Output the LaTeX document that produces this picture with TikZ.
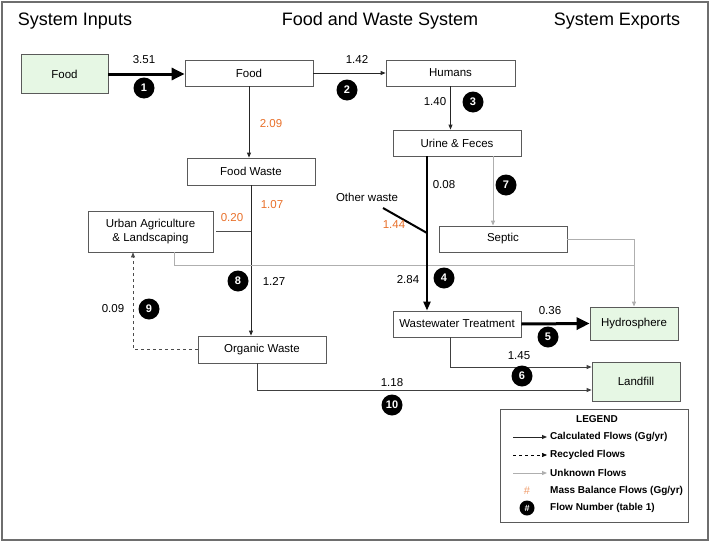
\documentclass[tikz,border=0pt]{standalone}
\usepackage{fontspec}
\setmainfont{Liberation Sans}
\usetikzlibrary{arrows.meta}
\definecolor{boxgreen}{RGB}{230,247,228}
\definecolor{mborange}{RGB}{232,112,42}
\definecolor{boxline}{RGB}{90,90,90}
\definecolor{unk}{RGB}{175,175,175}
\definecolor{frame}{RGB}{110,110,110}
\tikzset{
  flowbox/.style={draw=boxline, line width=0.8pt, fill=white, inner sep=0pt, align=center, font=\fontsize{11.5}{13.5}\selectfont},
  expbox/.style={flowbox, fill=boxgreen},
  numc/.style={circle, fill=black, text=white, inner sep=0pt, minimum size=21pt, font=\bfseries\fontsize{11}{12}\selectfont},
  lbl/.style={font=\fontsize{11.5}{13}\selectfont, inner sep=0pt},
  mb/.style={lbl, text=mborange},
  title/.style={font=\fontsize{18}{20}\selectfont, inner sep=0pt},
  thickflow/.style={line width=3pt, -{Triangle[length=13pt,width=12pt]}},
  calc/.style={line width=0.9pt, draw=black!85, -{Triangle[length=5pt,width=4pt]}},
  calcnoarrow/.style={line width=1pt, draw=black!70},
  recyc/.style={line width=0.6pt, draw=black!70, dashed, -{Triangle[length=5pt,width=4pt]}},
  unknown/.style={line width=1pt, draw=unk, -{Triangle[length=5pt,width=4pt]}},
  legtxt/.style={font=\bfseries\fontsize{10}{11}\selectfont, inner sep=0pt, anchor=west},
}
\begin{document}
\begin{tikzpicture}[x=1pt,y=-1pt]
\useasboundingbox (0,0) rectangle (710,541);
\draw[frame, line width=2pt] (1.5,1.5) rectangle (708,539.5);

% titles
\node[title] (t1) at (75,21) {System Inputs};
\node[title] (t2) at (380,21) {Food and Waste System};
\node[title] (t3) at (617,21) {System Exports};

% boxes
\node[expbox, minimum width=87pt, minimum height=39pt] (infood) at (64.5,74) {Food};
\node[flowbox, minimum width=128pt, minimum height=26pt] (food) at (249,73) {Food};
\node[flowbox, minimum width=129pt, minimum height=26pt] (humans) at (450.5,73) {Humans};
\node[flowbox, minimum width=128pt, minimum height=26pt] (urine) at (457,143) {Urine \& Feces};
\node[flowbox, minimum width=128pt, minimum height=27pt] (fwaste) at (251,171.5) {Food Waste};
\node[flowbox, minimum width=125pt, minimum height=41pt] (urban) at (150.5,231.5) {Urban Agriculture\\\& Landscaping};
\node[flowbox, minimum width=128pt, minimum height=26pt] (septic) at (503,239) {Septic};
\node[flowbox, minimum width=128pt, minimum height=26pt] (wwt) at (457,324) {Wastewater Treatment};
\node[expbox, minimum width=88pt, minimum height=33pt] (hydro) at (634,323.5) {Hydrosphere};
\node[flowbox, minimum width=128pt, minimum height=27pt] (organic) at (262,349.5) {Organic Waste};
\node[expbox, minimum width=88pt, minimum height=39pt] (landfill) at (636,381.5) {Landfill};

% helper coordinates
\coordinate (j8) at (fwaste.south |- urban.east);
\coordinate (g1) at (634,265);
\coordinate (owA) at (383,208);
\coordinate (owB) at (427,233);

% flows
\draw[thickflow] (infood.east) -- (infood.east -| food.west);
\draw[calc] (food.east) -- (humans.west);
\draw[calc] (humans.south) -- (humans.south |- urine.north);
\draw[calc] (food.south) -- (food.south |- fwaste.north);
\draw[calc] (fwaste.south) -- (fwaste.south |- organic.north);
\draw[calcnoarrow] ([xshift=3pt]urban.east) -- (j8);
\draw[recyc] (organic.west) -| ([xshift=-17.5pt]urban.south);
\draw[line width=1pt, draw=unk] ([xshift=23.5pt]urban.south) |- (g1);
\draw[unknown] (septic.east) -| (hydro.north);
\draw[unknown] ([xshift=36pt]urine.south) -- ([xshift=36pt]urine.south |- septic.north);
\draw[line width=2.2pt, -{Triangle[length=9pt,width=7pt]}] ([xshift=-30pt]urine.south) -- ([xshift=-30pt]wwt.north);
\draw[line width=2pt] (owA) -- (owB);
\draw[thickflow] (wwt.east) -- (hydro.west);
\draw[calc, draw=black!75] ([xshift=-7pt]wwt.south) |- ([yshift=14.5pt]landfill.west);
\draw[calc, draw=black!75] ([xshift=-5pt]organic.south) |- ([yshift=-8.5pt]landfill.west);

% labels
\node[lbl] (l351) at (144,60) {3.51};
\node[numc] (n1) at (144,88) {1};
\node[lbl] (l142) at (357,59) {1.42};
\node[numc] (n2) at (347,90) {2};
\node[lbl] (l140) at (435,102) {1.40};
\node[numc] (n3) at (473,102) {3};
\node[mb] (l209) at (271,124) {2.09};
\node[mb] (l107) at (272,205) {1.07};
\node[mb] (l020) at (232,218) {0.20};
\node[lbl] (l127) at (274,281) {1.27};
\node[numc] (n8) at (238,281) {8};
\node[lbl] (l009) at (113,309) {0.09};
\node[numc] (n9) at (149,309) {9};
\node[lbl] (l008) at (444,185) {0.08};
\node[numc] (n7) at (506,185) {7};
\node[lbl] (low) at (367,197) {Other waste};
\node[mb] (l144) at (394,225) {1.44};
\node[lbl] (l284) at (408,280) {2.84};
\node[numc] (n4) at (444,278) {4};
\node[lbl] (l036) at (550,311) {0.36};
\node[numc] (n5) at (548,337) {5};
\node[lbl] (l145) at (519,356) {1.45};
\node[numc] (n6) at (522,376) {6};
\node[lbl] (l118) at (392,383) {1.18};
\node[numc] (n10) at (392,405) {10};

% legend
\node[draw=boxline, line width=0.8pt, minimum width=188pt, minimum height=113pt, inner sep=0pt] (legend) at (594,465.5) {};
\node[font=\bfseries\fontsize{10}{11}\selectfont, inner sep=0pt] (legt) at (597,419) {LEGEND};
\coordinate (c1a) at (513,437); \coordinate (c1b) at (547,437);
\coordinate (c2a) at (513,455); \coordinate (c2b) at (547,455);
\coordinate (c3a) at (513,473); \coordinate (c3b) at (547,473);
\draw[calc] (c1a) -- (c1b);
\draw[recyc, draw=black] (c2a) -- (c2b);
\draw[unknown] (c3a) -- (c3b);
\node[legtxt] (lg1) at (550,437) {Calculated Flows (Gg/yr)};
\node[legtxt] (lg2) at (550,455) {Recycled Flows};
\node[legtxt] (lg3) at (550,473) {Unknown Flows};
\node[font=\fontsize{11}{12}\selectfont, text=mborange!70, inner sep=0pt] (lgh) at (527,491) {\#};
\node[legtxt] (lg4) at (550,491) {Mass Balance Flows (Gg/yr)};
\node[circle, fill=black, text=white, inner sep=0pt, minimum size=15pt, font=\bfseries\fontsize{9}{10}\selectfont] (lgc) at (527,508) {\#};
\node[legtxt] (lg5) at (550,508) {Flow Number (table 1)};
\end{tikzpicture}
\end{document}
